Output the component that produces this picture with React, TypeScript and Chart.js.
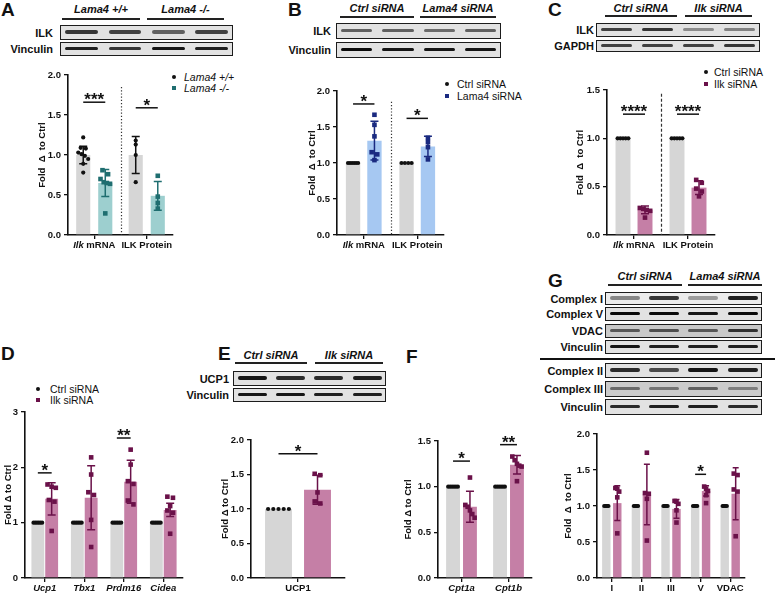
import React, { useEffect, useRef } from "react";
import { Chart, registerables } from "chart.js";
Chart.register(...registerables);

const FONT = "'Liberation Sans', Arial, Helvetica, sans-serif";
Chart.defaults.font.family = FONT;
Chart.defaults.color = "#111";

// ---------------- DATA ----------------
// Panel A
const aCats = ["*Ilk* mRNA", "ILK Protein"];
const aWtMean = [1.0, 1.0];
const aWtSd = [0.11, 0.23];
const aWtPts = [
  [1.22, 1.09, 1.08, 1.03, 1.01, 0.99, 0.95, 0.89, 0.78],
  [1.18, 1.13, 1.0, 0.66],
];
const aKoMean = [0.65, 0.49];
const aKoSd = [0.17, 0.18];
const aKoPts = [
  [0.81, 0.76, 0.7, 0.66, 0.65, 0.64, 0.27],
  [0.74, 0.48, 0.4, 0.33],
];

// Panel B
const bCats = ["*Ilk* mRNA", "ILK Protein"];
const bCtrlMean = [1.0, 1.0];
const bCtrlSd = [0, 0];
const bCtrlPts = [
  [1, 1, 1, 1, 1, 1],
  [1, 1, 1, 1],
];
const bKdMean = [1.31, 1.23];
const bKdSd = [0.27, 0.14];
const bKdPts = [
  [1.67, 1.53, 1.37, 1.15, 1.12, 1.04],
  [1.35, 1.29, 1.22, 1.05],
];

// Panel C
const cCats = ["*Ilk* mRNA", "ILK Protein"];
const cCtrlMean = [1.0, 1.0];
const cCtrlSd = [0, 0];
const cCtrlPts = [
  [1, 1, 1, 1, 1],
  [1, 1, 1, 1, 1],
];
const cKdMean = [0.26, 0.49];
const cKdSd = [0.04, 0.07];
const cKdPts = [
  [0.28, 0.27, 0.26, 0.25, 0.18],
  [0.57, 0.54, 0.48, 0.45, 0.4],
];

// Panel D
const dCats = ["*Ucp1*", "*Tbx1*", "*Prdm16*", "*Cidea*"];
const dCtrlMean = [1, 1, 1, 1];
const dCtrlSd = [0, 0, 0, 0];
const dCtrlPts = [
  [1, 1, 1, 1, 1, 1],
  [1, 1, 1, 1, 1, 1],
  [1, 1, 1, 1, 1, 1],
  [1, 1, 1, 1, 1, 1],
];
const dKdMean = [1.43, 1.45, 1.74, 1.23];
const dKdSd = [0.29, 0.58, 0.39, 0.12];
const dKdPts = [
  [1.69, 1.65, 1.63, 1.41, 1.38, 0.85],
  [2.18, 1.87, 1.55, 1.5, 1.05, 0.56],
  [2.32, 2.05, 1.75, 1.7, 1.4, 1.33],
  [1.47, 1.45, 1.3, 1.22, 1.18, 0.8],
];

// Panel E
const eCats = ["UCP1"];
const eCtrlMean = [1.0];
const eCtrlSd = [0];
const eCtrlPts = [[1, 1, 1, 1, 1]];
const eKdMean = [1.28];
const eKdSd = [0.21];
const eKdPts = [[1.51, 1.49, 1.24, 1.11, 1.08]];

// Panel F
const fCats = ["*Cpt1a*", "*Cpt1b*"];
const fCtrlMean = [1.0, 1.0];
const fCtrlSd = [0, 0];
const fCtrlPts = [
  [1, 1, 1, 1, 1, 1],
  [1, 1, 1, 1, 1, 1],
];
const fKdMean = [0.78, 1.24];
const fKdSd = [0.17, 0.1];
const fKdPts = [
  [1.1, 0.8, 0.78, 0.74, 0.7, 0.66],
  [1.33, 1.29, 1.25, 1.23, 1.22, 1.06],
];

// Panel G
const gCats = ["I", "II", "III", "V", "VDAC"];
const gCtrlMean = [1, 1, 1, 1, 1];
const gCtrlSd = [0, 0, 0, 0, 0];
const gCtrlPts = [
  [1, 1, 1, 1, 1],
  [1, 1, 1, 1, 1],
  [1, 1, 1, 1, 1],
  [1, 1, 1, 1, 1],
  [1, 1, 1, 1, 1],
];
const gKdMean = [1.04, 1.16, 0.96, 1.21, 1.17];
const gKdSd = [0.24, 0.42, 0.13, 0.07, 0.36];
const gKdPts = [
  [1.25, 1.24, 1.2, 1.12, 0.62],
  [1.74, 1.18, 1.17, 1.1, 0.52],
  [1.07, 1.06, 1.03, 0.94, 0.77],
  [1.27, 1.24, 1.21, 1.15, 1.04],
  [1.45, 1.43, 1.23, 1.2, 0.58],
];

// ---------------- STYLE ----------------
const GRAY = "#d6d6d6";
const BLACK = "#111111";
const TEAL = "#9dcfcf";
const TEAL_D = "#1f6e70";
const BLUE = "#a6c8f2";
const NAVY = "#1a2a80";
const PINK = "#c57fa6";
const PURP = "#6a1149";

const YW = 40;
const PT = 16;
const PR = 6;
const XH = 22;

type Group = { mean: number[]; sd: number[]; pts: number[][]; bar: string; dark: string; shape: "circle" | "square" };
type Sig = { cat: number; y: number; text: string };
type PanelCfg = {
  area: [number, number, number, number];
  cats: string[];
  yMax: number;
  step: number;
  dec: number;
  groups: Group[];
  cp: number;
  bp: number;
  sig: Sig[];
  sep?: { from: number; dash: number[] };
  title: string;
  titleOff: number;
  capW: number;
};

function parseSegs(s: string) {
  const parts = s.split("*");
  const out: { t: string; it: boolean }[] = [];
  parts.forEach((p, i) => {
    if (p.length) out.push({ t: p, it: i % 2 === 1 });
  });
  return out;
}

function layoutPoints(vals: number[], ys: any, barW: number, size: number) {
  const items = vals.map((v) => ({ v, py: ys.getPixelForValue(v) })).sort((a, b) => a.py - b.py);
  const out: { px: number; py: number }[] = [];
  let i = 0;
  while (i < items.length) {
    let j = i + 1;
    while (j < items.length && items[j].py - items[j - 1].py < size * 0.9) j++;
    const k = j - i;
    const sp = k > 1 ? Math.min(size + 1, Math.max(1, (barW - size) / (k - 1))) : 0;
    for (let m = 0; m < k; m++) out.push({ px: (m - (k - 1) / 2) * sp, py: items[i + m].py });
    i = j;
  }
  return out;
}

function makeOverlay(cfg: PanelCfg) {
  return {
    id: "overlay",
    afterDatasetsDraw(chart: any) {
      const ctx = chart.ctx as CanvasRenderingContext2D;
      const xs = chart.scales.x;
      const ys = chart.scales.y;
      const ca = chart.chartArea;
      ctx.save();
      if (cfg.sep) {
        ctx.strokeStyle = "#333";
        ctx.lineWidth = 1.2;
        ctx.setLineDash(cfg.sep.dash);
        for (let k = 1; k < cfg.cats.length; k++) {
          const x = Math.round((xs.getPixelForValue(k - 1) + xs.getPixelForValue(k)) / 2) + 0.5;
          ctx.beginPath();
          ctx.moveTo(x, ys.getPixelForValue(cfg.sep.from));
          ctx.lineTo(x, ca.bottom);
          ctx.stroke();
        }
        ctx.setLineDash([]);
      }
      const centers: number[][] = [];
      cfg.groups.forEach((g, di) => {
        const meta = chart.getDatasetMeta(di);
        centers[di] = [];
        meta.data.forEach((el: any, j: number) => {
          const x = el.x;
          const bw = el.width;
          centers[di][j] = x;
          if (g.sd[j] > 0) {
            const yT = ys.getPixelForValue(g.mean[j] + g.sd[j]);
            const yB = ys.getPixelForValue(Math.max(0, g.mean[j] - g.sd[j]));
            ctx.strokeStyle = g.dark;
            ctx.lineWidth = 1.5;
            ctx.beginPath();
            ctx.moveTo(x, yT);
            ctx.lineTo(x, yB);
            ctx.moveTo(x - cfg.capW, yT);
            ctx.lineTo(x + cfg.capW, yT);
            ctx.moveTo(x - cfg.capW, yB);
            ctx.lineTo(x + cfg.capW, yB);
            ctx.stroke();
          }
          const size = g.shape === "circle" ? 4.2 : 4.6;
          const pts = layoutPoints(g.pts[j], ys, bw, size);
          ctx.fillStyle = g.dark;
          pts.forEach((p) => {
            if (g.shape === "circle") {
              ctx.beginPath();
              ctx.arc(x + p.px, p.py, size / 2, 0, Math.PI * 2);
              ctx.fill();
            } else {
              ctx.fillRect(x + p.px - size / 2, p.py - size / 2, size, size);
            }
          });
        });
      });
      // significance
      cfg.sig.forEach((s) => {
        const x1 = centers[0][s.cat];
        const x2 = centers[1][s.cat];
        const y = ys.getPixelForValue(s.y);
        ctx.strokeStyle = BLACK;
        ctx.lineWidth = 1.5;
        ctx.beginPath();
        ctx.moveTo(x1, y);
        ctx.lineTo(x2, y);
        ctx.stroke();
        ctx.fillStyle = BLACK;
        ctx.font = `bold 17px ${FONT}`;
        ctx.textAlign = "center";
        ctx.textBaseline = "alphabetic";
        ctx.fillText(s.text, (x1 + x2) / 2, y + 3);
      });
      // x labels
      ctx.fillStyle = BLACK;
      ctx.textBaseline = "middle";
      ctx.textAlign = "left";
      cfg.cats.forEach((c, j) => {
        const segs = parseSegs(c);
        const fonts = segs.map((s) => `${s.it ? "italic " : ""}bold 9.5px ${FONT}`);
        let total = 0;
        const ws = segs.map((s, i) => {
          ctx.font = fonts[i];
          const w = ctx.measureText(s.t).width;
          total += w;
          return w;
        });
        let x = xs.getPixelForValue(j) - total / 2;
        segs.forEach((s, i) => {
          ctx.font = fonts[i];
          ctx.fillText(s.t, x, ca.bottom + 10);
          x += ws[i];
        });
      });
      // y title
      ctx.save();
      ctx.translate(ca.left - cfg.titleOff, (ca.top + ca.bottom) / 2);
      ctx.rotate(-Math.PI / 2);
      ctx.font = `bold 9.5px ${FONT}`;
      ctx.textAlign = "center";
      ctx.textBaseline = "middle";
      ctx.fillText(cfg.title, 0, 0);
      ctx.restore();
      ctx.restore();
    },
  };
}

function ChartPanel({ cfg }: { cfg: PanelCfg }) {
  const ref = useRef<HTMLCanvasElement>(null);
  const [l, t, r, b] = cfg.area;
  const W = YW + (r - l) + PR;
  const H = PT + (b - t) + XH;
  useEffect(() => {
    const axisGrid = {
      display: true,
      drawOnChartArea: false,
      drawTicks: true,
      tickLength: 4,
      color: BLACK,
      lineWidth: 1.3,
    };
    const chart = new Chart(ref.current as HTMLCanvasElement, {
      type: "bar",
      data: {
        labels: cfg.cats,
        datasets: cfg.groups.map((g) => ({
          data: g.mean,
          backgroundColor: g.bar,
          borderWidth: 0,
          categoryPercentage: cfg.cp,
          barPercentage: cfg.bp,
        })),
      },
      options: {
        animation: false,
        responsive: false,
        maintainAspectRatio: false,
        devicePixelRatio: 1,
        layout: { padding: { left: 0, top: PT, right: PR, bottom: 0 } },
        plugins: { legend: { display: false }, tooltip: { enabled: false }, title: { display: false } },
        scales: {
          x: {
            grid: { ...axisGrid, offset: false },
            border: { display: true, color: BLACK, width: 1.6 },
            ticks: { display: false },
            afterFit: (s: any) => {
              s.height = XH;
            },
          },
          y: {
            min: 0,
            max: cfg.yMax,
            grid: axisGrid,
            border: { display: true, color: BLACK, width: 1.6 },
            ticks: {
              stepSize: cfg.step,
              padding: 3,
              color: BLACK,
              font: { family: FONT, size: 9.5, weight: "bold" },
              callback: (v: any) => Number(v).toFixed(cfg.dec),
            },
            afterFit: (s: any) => {
              s.width = YW;
            },
          },
        },
      } as any,
      plugins: [makeOverlay(cfg)],
    });
    return () => chart.destroy();
  }, []);
  return (
    <canvas
      ref={ref}
      width={W}
      height={H}
      style={{ position: "absolute", left: l - YW, top: t - PT, width: W, height: H }}
    />
  );
}

// ---------------- PANEL CONFIGS ----------------
const panelA: PanelCfg = {
  area: [68, 75, 173, 235],
  cats: aCats,
  yMax: 2,
  step: 0.5,
  dec: 1,
  groups: [
    { mean: aWtMean, sd: aWtSd, pts: aWtPts, bar: GRAY, dark: BLACK, shape: "circle" },
    { mean: aKoMean, sd: aKoSd, pts: aKoPts, bar: TEAL, dark: TEAL_D, shape: "square" },
  ],
  cp: 0.84,
  bp: 0.64,
  sig: [
    { cat: 0, y: 1.66, text: "***" },
    { cat: 1, y: 1.59, text: "*" },
  ],
  sep: { from: 1.85, dash: [1.2, 2] },
  title: "Fold  Δ  to Ctrl",
  titleOff: 26,
  capW: 4,
};

const panelB: PanelCfg = {
  area: [337, 91, 444, 235],
  cats: bCats,
  yMax: 2,
  step: 0.5,
  dec: 1,
  groups: [
    { mean: bCtrlMean, sd: bCtrlSd, pts: bCtrlPts, bar: GRAY, dark: BLACK, shape: "circle" },
    { mean: bKdMean, sd: bKdSd, pts: bKdPts, bar: BLUE, dark: NAVY, shape: "square" },
  ],
  cp: 0.8,
  bp: 0.67,
  sig: [
    { cat: 0, y: 1.82, text: "*" },
    { cat: 1, y: 1.62, text: "*" },
  ],
  sep: { from: 1.85, dash: [1.2, 2] },
  title: "Fold  Δ  to Ctrl",
  titleOff: 25,
  capW: 4,
};

const panelC: PanelCfg = {
  area: [607, 90, 715, 235],
  cats: cCats,
  yMax: 1.5,
  step: 0.5,
  dec: 1,
  groups: [
    { mean: cCtrlMean, sd: cCtrlSd, pts: cCtrlPts, bar: GRAY, dark: BLACK, shape: "circle" },
    { mean: cKdMean, sd: cKdSd, pts: cKdPts, bar: PINK, dark: PURP, shape: "square" },
  ],
  cp: 0.815,
  bp: 0.68,
  sig: [
    { cat: 0, y: 1.25, text: "****" },
    { cat: 1, y: 1.25, text: "****" },
  ],
  sep: { from: 1.46, dash: [3, 2] },
  title: "Fold  Δ  to Ctrl",
  titleOff: 27,
  capW: 4,
};

const panelD: PanelCfg = {
  area: [25, 412, 183, 578],
  cats: dCats,
  yMax: 3,
  step: 1,
  dec: 0,
  groups: [
    { mean: dCtrlMean, sd: dCtrlSd, pts: dCtrlPts, bar: GRAY, dark: BLACK, shape: "circle" },
    { mean: dKdMean, sd: dKdSd, pts: dKdPts, bar: PINK, dark: PURP, shape: "square" },
  ],
  cp: 0.7,
  bp: 0.93,
  sig: [
    { cat: 0, y: 1.9, text: "*" },
    { cat: 2, y: 2.53, text: "**" },
  ],
  title: "Fold Δ to Ctrl",
  titleOff: 17,
  capW: 4,
};

const panelE: PanelCfg = {
  area: [251, 440, 345, 578],
  cats: eCats,
  yMax: 2,
  step: 0.5,
  dec: 1,
  groups: [
    { mean: eCtrlMean, sd: eCtrlSd, pts: eCtrlPts, bar: GRAY, dark: BLACK, shape: "circle" },
    { mean: eKdMean, sd: eKdSd, pts: eKdPts, bar: PINK, dark: PURP, shape: "square" },
  ],
  cp: 0.83,
  bp: 0.69,
  sig: [{ cat: 0, y: 1.8, text: "*" }],
  title: "Fold Δ to Ctrl",
  titleOff: 26,
  capW: 5,
};

const panelF: PanelCfg = {
  area: [438, 441, 532, 578],
  cats: fCats,
  yMax: 1.5,
  step: 0.5,
  dec: 1,
  groups: [
    { mean: fCtrlMean, sd: fCtrlSd, pts: fCtrlPts, bar: GRAY, dark: BLACK, shape: "circle" },
    { mean: fKdMean, sd: fKdSd, pts: fKdPts, bar: PINK, dark: PURP, shape: "square" },
  ],
  cp: 0.72,
  bp: 0.82,
  sig: [
    { cat: 0, y: 1.28, text: "*" },
    { cat: 1, y: 1.46, text: "**" },
  ],
  title: "Fold Δ to Ctrl",
  titleOff: 30,
  capW: 4,
};

const panelG: PanelCfg = {
  area: [597, 434, 745, 578],
  cats: gCats,
  yMax: 2,
  step: 0.5,
  dec: 1,
  groups: [
    { mean: gCtrlMean, sd: gCtrlSd, pts: gCtrlPts, bar: GRAY, dark: BLACK, shape: "circle" },
    { mean: gKdMean, sd: gKdSd, pts: gKdPts, bar: PINK, dark: PURP, shape: "square" },
  ],
  cp: 0.74,
  bp: 0.77,
  sig: [{ cat: 3, y: 1.44, text: "*" }],
  title: "Fold  Δ  to Ctrl",
  titleOff: 29,
  capW: 3,
};

// ---------------- HTML PIECES ----------------
function Txt({ x, y, s, fs = 11, b = true, i = false, al = "l", color = "#111" }: any) {
  const tr = al === "r" ? "translate(-100%,-50%)" : al === "c" ? "translate(-50%,-50%)" : "translate(0,-50%)";
  return (
    <div
      style={{
        position: "absolute",
        left: x,
        top: y,
        transform: tr,
        fontFamily: FONT,
        fontSize: fs,
        fontWeight: b ? 700 : 400,
        fontStyle: i ? "italic" : "normal",
        lineHeight: 1,
        whiteSpace: "pre",
        color,
      }}
    >
      {s}
    </div>
  );
}

function Hdr({ x1, x2, y, ly, s }: any) {
  return (
    <>
      <Txt x={(x1 + x2) / 2} y={y} s={s} i al="c" fs={11} />
      <div style={{ position: "absolute", left: x1, top: ly - 0.75, width: x2 - x1, height: 1.5, background: "#222" }} />
    </>
  );
}

function Blot({ x1, x2, y1, y2, bands, bg = "#e2e2e2", th = 3.6 }: any) {
  const w = x2 - x1;
  const h = y2 - y1;
  const lw = w / 4;
  const inner = h - 3;
  return (
    <div
      style={{
        position: "absolute",
        left: x1,
        top: y1,
        width: w,
        height: h,
        boxSizing: "border-box",
        border: "1.5px solid #1c1c1c",
        background: bg,
        overflow: "hidden",
      }}
    >
      {bands.map((a: number, i: number) => (
        <div
          key={i}
          style={{
            position: "absolute",
            left: i * lw + lw * 0.1,
            width: lw * 0.76,
            top: inner / 2 - th / 2,
            height: th,
            background: `rgba(10,10,10,${a})`,
            borderRadius: th,
            filter: "blur(0.7px)",
          }}
        />
      ))}
    </div>
  );
}

function BlotSet({ x1, x2, lx, rows }: any) {
  return (
    <>
      {rows.map((r: any, i: number) => (
        <React.Fragment key={i}>
          <Txt x={lx} y={(r.y1 + r.y2) / 2} s={r.label} al="r" fs={11} />
          <Blot x1={x1} x2={x2} y1={r.y1} y2={r.y2} bands={r.bands} bg={r.bg} th={r.th} />
        </React.Fragment>
      ))}
    </>
  );
}

function Legend({ mx, tx, rows, italic }: any) {
  return (
    <>
      {rows.map((r: any, i: number) => (
        <React.Fragment key={i}>
          <div
            style={{
              position: "absolute",
              left: mx - (r.sq ? 2.3 : 2),
              top: r.y - (r.sq ? 2.3 : 2),
              width: r.sq ? 4.6 : 4,
              height: r.sq ? 4.6 : 4,
              borderRadius: r.sq ? 0 : "50%",
              background: r.c,
            }}
          />
          <Txt x={tx} y={r.y} s={r.s} b={false} i={italic} fs={10.5} />
        </React.Fragment>
      ))}
    </>
  );
}

export default function App() {
  return (
    <div
      style={{
        position: "absolute",
        left: 0,
        top: 0,
        width: 777,
        height: 596,
        overflow: "hidden",
        background: "#fff",
        fontFamily: FONT,
      }}
    >
      {/* Panel letters */}
      <Txt x={1} y={9} s="A" fs={19} />
      <Txt x={288} y={9} s="B" fs={19} />
      <Txt x={548} y={9} s="C" fs={19} />
      <Txt x={1} y={353} s="D" fs={19} />
      <Txt x={218} y={353} s="E" fs={19} />
      <Txt x={406} y={356} s="F" fs={19} />
      <Txt x={548} y={280} s="G" fs={19} />

      {/* A blots */}
      <Hdr x1={62} x2={140} y={9} ly={19} s="Lama4 +/+" />
      <Hdr x1={147} x2={224} y={9} ly={19} s="Lama4 -/-" />
      <BlotSet
        x1={60}
        x2={233}
        lx={53}
        rows={[
          { label: "ILK", y1: 25, y2: 40, bands: [0.8, 0.75, 0.6, 0.75] },
          { label: "Vinculin", y1: 42, y2: 56, bands: [0.9, 0.8, 0.95, 0.9] },
        ]}
      />
      {/* B blots */}
      <Hdr x1={340} x2={414} y={8} ly={17} s="Ctrl siRNA" />
      <Hdr x1={420} x2={496} y={8} ly={17} s="Lama4 siRNA" />
      <BlotSet
        x1={336}
        x2={501}
        lx={331}
        rows={[
          { label: "ILK", y1: 23, y2: 39, bands: [0.6, 0.6, 0.55, 0.6] },
          { label: "Vinculin", y1: 42, y2: 58, bands: [1, 0.95, 0.95, 0.95] },
        ]}
      />
      {/* C blots */}
      <Hdr x1={605} x2={677} y={8} ly={16} s="Ctrl siRNA" />
      <Hdr x1={685} x2={752} y={8} ly={16} s="Ilk siRNA" />
      <BlotSet
        x1={596}
        x2={760}
        lx={594}
        rows={[
          { label: "ILK", y1: 23, y2: 37, bands: [0.75, 0.8, 0.4, 0.45] },
          { label: "GAPDH", y1: 40, y2: 52, bands: [0.75, 0.75, 0.75, 0.8] },
        ]}
      />
      {/* E blots */}
      <Hdr x1={235} x2={307} y={355} ly={363} s="Ctrl siRNA" />
      <Hdr x1={315} x2={383} y={355} ly={363} s="Ilk siRNA" />
      <BlotSet
        x1={233}
        x2={386}
        lx={229}
        rows={[
          { label: "UCP1", y1: 371, y2: 386, bands: [0.95, 0.85, 0.85, 0.9] },
          { label: "Vinculin", y1: 388, y2: 402, bands: [0.95, 0.95, 0.9, 0.9] },
        ]}
      />
      {/* G blots */}
      <Hdr x1={608} x2={682} y={276} ly={285} s="Ctrl siRNA" />
      <Hdr x1={688} x2={762} y={276} ly={285} s="Lama4 siRNA" />
      <BlotSet
        x1={605}
        x2={762}
        lx={603}
        rows={[
          { label: "Complex I", y1: 292, y2: 305, bands: [0.45, 0.8, 0.35, 0.9], bg: "#ececec" },
          { label: "Complex V", y1: 307, y2: 321, bands: [1, 1, 0.95, 1] },
          { label: "VDAC", y1: 324, y2: 338, bands: [0.6, 0.65, 0.6, 0.8], bg: "#c9c9c9" },
          { label: "Vinculin", y1: 340, y2: 354, bands: [0.95, 0.9, 0.9, 0.9] },
          { label: "Complex II", y1: 363, y2: 378, bands: [0.85, 0.7, 0.95, 0.9] },
          { label: "Complex III", y1: 381, y2: 397, bands: [0.5, 0.45, 0.55, 0.4], bg: "#cbcbcb" },
          { label: "Vinculin", y1: 399, y2: 415, bands: [0.85, 0.9, 0.9, 0.85] },
        ]}
      />
      <div style={{ position: "absolute", left: 540, top: 358, width: 235, height: 2, background: "#111" }} />

      {/* Legends */}
      <Legend
        mx={174}
        tx={184}
        italic
        rows={[
          { y: 77, s: "Lama4 +/+", c: BLACK },
          { y: 88, s: "Lama4 -/-", c: TEAL_D, sq: true },
        ]}
      />
      <Legend
        mx={447}
        tx={457}
        rows={[
          { y: 84, s: "Ctrl siRNA", c: BLACK },
          { y: 96, s: "Lama4 siRNA", c: NAVY, sq: true },
        ]}
      />
      <Legend
        mx={706}
        tx={714}
        rows={[
          { y: 72, s: "Ctrl siRNA", c: BLACK },
          { y: 84, s: "Ilk siRNA", c: PURP, sq: true },
        ]}
      />
      <Legend
        mx={38}
        tx={50}
        rows={[
          { y: 389, s: "Ctrl siRNA", c: BLACK },
          { y: 400, s: "Ilk siRNA", c: PURP, sq: true },
        ]}
      />

      {/* Charts */}
      <ChartPanel cfg={panelA} />
      <ChartPanel cfg={panelB} />
      <ChartPanel cfg={panelC} />
      <ChartPanel cfg={panelD} />
      <ChartPanel cfg={panelE} />
      <ChartPanel cfg={panelF} />
      <ChartPanel cfg={panelG} />
    </div>
  );
}
